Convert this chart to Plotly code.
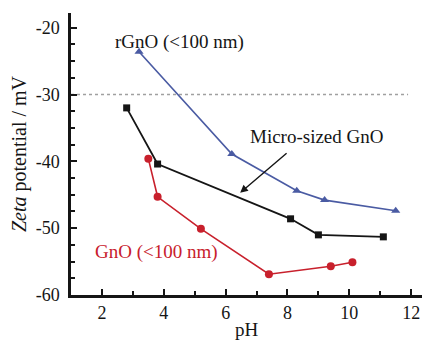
import plotly.graph_objects as go

# Zeta potential vs pH for three graphene-oxide samples
ph_rgno = [3.2, 6.2, 8.3, 9.2, 11.5]
zeta_rgno = [-23.6, -38.9, -44.4, -45.8, -47.4]

ph_micro = [2.8, 3.8, 8.1, 9.0, 11.1]
zeta_micro = [-32.0, -40.4, -48.6, -51.0, -51.3]

ph_gno = [3.5, 3.8, 5.2, 7.4, 9.4, 10.1]
zeta_gno = [-39.6, -45.3, -50.1, -56.9, -55.7, -55.1]

x_ticks = [2, 4, 6, 8, 10, 12]
y_ticks = [-60, -50, -40, -30, -20]
y_tick_labels = ["-60", "-50", "-40", "-30", "-20"]

# stability threshold line
threshold = -30
threshold_x = [1.0, 11.9]

FONT = "Liberation Serif"
BLUE = "#4a5ba3"
BLACK = "#151515"
RED = "#c8202c"

fig = go.Figure()

fig.add_trace(go.Scatter(
    x=threshold_x, y=[threshold, threshold], mode="lines",
    line=dict(color="#a0a0a0", width=1.5, dash="dot"), hoverinfo="skip"))

fig.add_trace(go.Scatter(
    x=ph_rgno, y=zeta_rgno, mode="lines+markers",
    line=dict(color=BLUE, width=1.6),
    marker=dict(symbol="triangle-up", size=8, color=BLUE)))

fig.add_trace(go.Scatter(
    x=ph_micro, y=zeta_micro, mode="lines+markers",
    line=dict(color=BLACK, width=1.8),
    marker=dict(symbol="square", size=7, color=BLACK)))

fig.add_trace(go.Scatter(
    x=ph_gno, y=zeta_gno, mode="lines+markers",
    line=dict(color=RED, width=1.6),
    marker=dict(symbol="circle", size=8, color=RED)))

fig.add_annotation(x=4.5, y=-22.1, text="rGnO (<100 nm)", showarrow=False,
                   font=dict(family=FONT, size=19, color=BLACK))
fig.add_annotation(x=8.96, y=-36.3, text="Micro-sized GnO", showarrow=False,
                   font=dict(family=FONT, size=19, color=BLACK))
fig.add_annotation(x=3.78, y=-53.5, text="GnO (<100 nm)", showarrow=False,
                   font=dict(family=FONT, size=19, color=RED))
fig.add_annotation(x=6.47, y=-44.7, ax=8.02, ay=-38.6, axref="x", ayref="y",
                   text="", showarrow=True, arrowhead=2, arrowsize=1.1,
                   arrowwidth=1.4, arrowcolor=BLACK)

fig.update_layout(
    width=422, height=340,
    margin=dict(l=71, r=0, t=13, b=45),
    paper_bgcolor="white", plot_bgcolor="white",
    showlegend=False,
    font=dict(family=FONT, size=18, color=BLACK),
)
fig.update_xaxes(
    range=[1.0, 12.35], tickvals=x_ticks,
    ticks="inside", ticklen=6, tickwidth=2, tickcolor=BLACK,
    minor=dict(dtick=1, tick0=0, ticks="inside", ticklen=4, tickwidth=1.5, tickcolor=BLACK),
    showline=True, linecolor=BLACK, linewidth=2.5, showgrid=False, zeroline=False,
    tickfont=dict(family=FONT, size=18),
    title=dict(text="pH", font=dict(family=FONT, size=19), standoff=2),
)
fig.update_yaxes(
    range=[-60, -17.8], tickvals=y_ticks, ticktext=y_tick_labels,
    ticks="inside", ticklen=6, tickwidth=2, tickcolor=BLACK,
    minor=dict(dtick=2.5, tick0=0, ticks="inside", ticklen=4, tickwidth=1.5, tickcolor=BLACK),
    showline=True, linecolor=BLACK, linewidth=2.5, showgrid=False, zeroline=False,
    tickfont=dict(family=FONT, size=18), ticklabelstandoff=5,
    title=dict(text="<i>Zeta</i> potential / mV", font=dict(family=FONT, size=20), standoff=4),
)

fig.write_html("out.html")
